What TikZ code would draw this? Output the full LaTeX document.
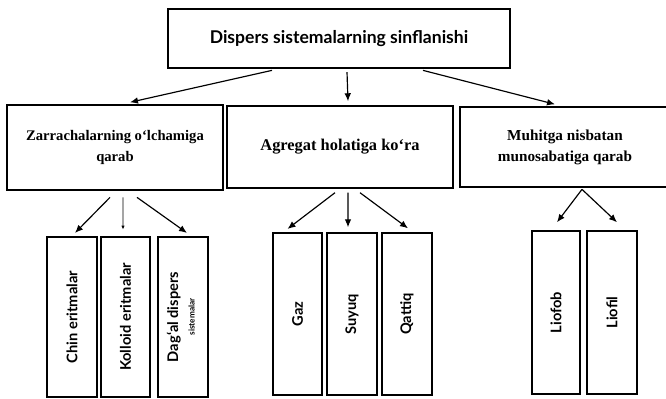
\documentclass[tikz,border=0pt]{standalone}
\usepackage{fontspec}
\setmainfont{Liberation Serif}
\newfontfamily\gill{Lato}
\usetikzlibrary{arrows.meta}

\begin{document}
\begin{tikzpicture}[x=0.03cm,y=-0.03cm,>={Latex[length=2.4mm,width=2mm]}]
  \tikzset{
    box/.style={draw,line width=1.2pt,inner sep=2pt,align=center},
    head/.style={box,font=\gill\bfseries\fontsize{15}{18}\selectfont},
    mid/.style={box,font=\bfseries\fontsize{12.5}{18}\selectfont},
    vbox/.style={box,font=\gill\bfseries\fontsize{12.5}{13}\selectfont,minimum height=4.8cm},
    arr/.style={->,line width=1pt}
  }
  \useasboundingbox (0,0) rectangle (666,399);
  % top
  \node[head,minimum width=10.26cm,minimum height=1.77cm] (top) at (339,38.5) {Dispers sistemalarning sinflanishi};
  % middle row
  \node[mid,minimum width=6.48cm,minimum height=2.55cm] (zarr) at (115,147.5) {Zarrachalarning o‘lchamiga\\qarab};
  \node[mid,font=\bfseries\fontsize{14}{17}\selectfont,minimum width=6.78cm,minimum height=2.46cm] (agr) at (340,147) {Agregat holatiga ko‘ra};
  \node[mid,font=\bfseries\fontsize{13}{18}\selectfont,minimum width=6.3cm,minimum height=2.4cm] (muh) at (565,147) {Muhitga nisbatan\\munosabatiga qarab};
  % bottom row
  \node[vbox,minimum width=1.5cm] (chin) at (72,317) {\rotatebox{90}{Chin eritmalar}};
  \node[vbox,minimum width=1.47cm] (koll) at (125.5,317) {\rotatebox{90}{Kolloid eritmalar}};
  \node[vbox,minimum width=1.5cm] (dag) at (183,317) {\rotatebox{90}{\begin{tabular}{@{}c@{}}Dag‘al dispers\\[1pt]{\scriptsize sistemalar}\end{tabular}}};
  \node[vbox,minimum width=1.47cm,minimum height=4.86cm] (gaz) at (297.5,314) {\rotatebox{90}{Gaz}};
  \node[vbox,minimum width=1.5cm,minimum height=4.86cm] (suy) at (352,314) {\rotatebox{90}{Suyuq}};
  \node[vbox,minimum width=1.5cm,minimum height=4.86cm] (qat) at (407,314) {\rotatebox{90}{Qattiq}};
  \node[vbox,minimum width=1.44cm,minimum height=4.89cm] (lfob) at (556,312.5) {\rotatebox{90}{Liofob}};
  \node[vbox,minimum width=1.5cm,minimum height=4.89cm] (lfil) at (612,312.5) {\rotatebox{90}{Liofil}};
  % arrows from top
  \draw[arr] ([xshift=-2.01cm,yshift=-0.05cm]top.south) -- ([xshift=0.45cm,yshift=0.06cm]zarr.north);
  \draw[arr] ([xshift=0.24cm,yshift=-0.1cm]top.south) -- ([xshift=0.24cm,yshift=0.12cm]agr.north);
  \draw[arr] ([xshift=2.52cm,yshift=-0.05cm]top.south) -- ([xshift=-0.3cm,yshift=0.06cm]muh.north);
  % arrows to bottom
  \draw[arr] ([xshift=-0.15cm,yshift=-0.2cm]zarr.south) -- ([xshift=0.09cm,yshift=0.1cm]chin.north);
  \draw[->,line width=0.8pt,>={Latex[length=1.2mm,width=1mm]}] ([xshift=0.24cm,yshift=-0.2cm]zarr.south) -- ([xshift=-0.075cm,yshift=0.2cm]koll.north);
  \draw[arr] ([xshift=0.66cm,yshift=-0.2cm]zarr.south) -- ([xshift=0.12cm,yshift=0.1cm]dag.north);
  \draw[arr] ([xshift=-0.15cm,yshift=-0.12cm]agr.south) -- ([xshift=-0.3cm,yshift=0.1cm]gaz.north);
  \draw[arr] ([xshift=0.24cm,yshift=-0.12cm]agr.south) -- ([xshift=-0.12cm,yshift=0.15cm]suy.north);
  \draw[arr] ([xshift=0.6cm,yshift=-0.12cm]agr.south) -- ([xshift=0.03cm,yshift=0.12cm]qat.north);
  \draw[arr] ([xshift=0.51cm,yshift=-0.05cm]muh.south) -- ([xshift=0.03cm,yshift=0.24cm]lfob.north);
  \draw[arr] ([xshift=0.51cm,yshift=-0.05cm]muh.south) -- ([xshift=0.15cm,yshift=0.24cm]lfil.north);
\end{tikzpicture}
\end{document}
